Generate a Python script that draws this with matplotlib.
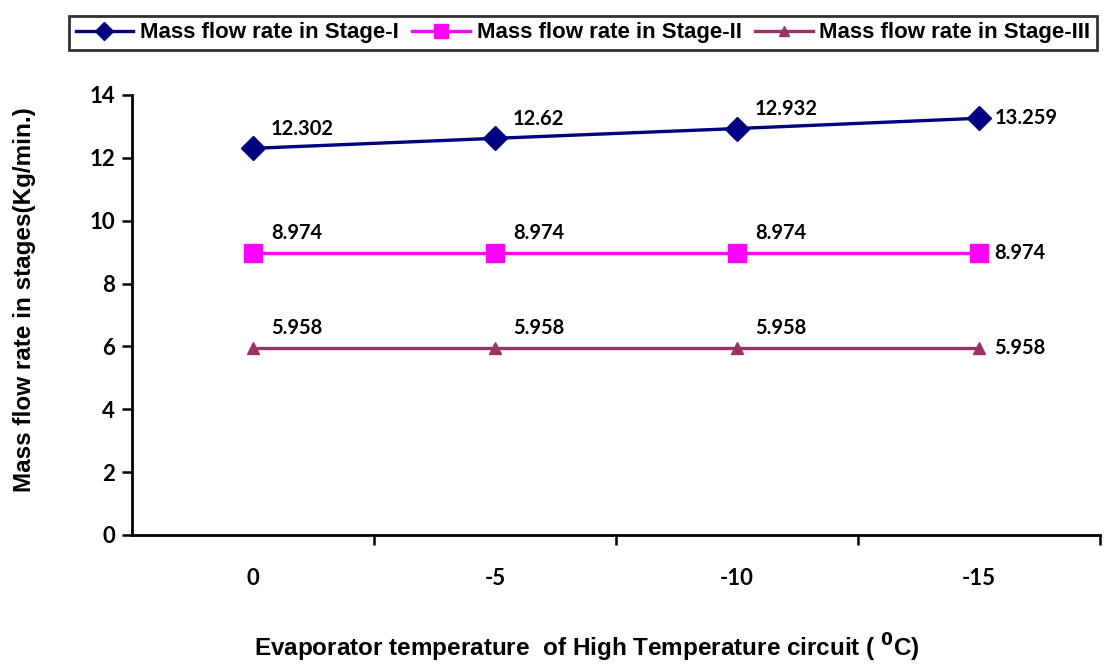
import matplotlib
matplotlib.use("Agg")
import matplotlib.pyplot as plt

# Evaporator temperatures (categories) and mass flow rates per stage
temps = ["0", "-5", "-10", "-15"]
stage1 = [12.302, 12.62, 12.932, 13.259]
stage2 = [8.974, 8.974, 8.974, 8.974]
stage3 = [5.958, 5.958, 5.958, 5.958]

label_font = "Lato"
title_font = "Liberation Sans"

fig = plt.figure(figsize=(11.11, 6.66), dpi=100)
ax = fig.add_axes([0.1188, 0.1967, 0.8712, 0.6607])

x = list(range(len(temps)))
series = [
    (stage1, "#000080", "D", 12, "Mass flow rate in Stage-I"),
    (stage2, "#FF00FF", "s", 13, "Mass flow rate in Stage-II"),
    (stage3, "#993366", "^", 9, "Mass flow rate in Stage-III"),
]
for vals, col, mk, ms, name in series:
    ax.plot(x, vals, color=col, marker=mk, markersize=ms, linewidth=2.4, label=name)
    for i, v in enumerate(vals):
        txt = f"{v:g}"
        if i < len(vals) - 1:
            ax.annotate(txt, (i, v), xytext=(13, 7), textcoords="offset points",
                        fontsize=14.5, fontweight="bold", family=label_font,
                        ha="left", va="bottom")
        else:
            ax.annotate(txt, (i, v), xytext=(11, 0), textcoords="offset points",
                        fontsize=14.5, fontweight="bold", family=label_font,
                        ha="left", va="center")

ax.set_xlim(-0.5, 3.5)
ax.set_ylim(0, 14)
ax.set_yticks(range(0, 15, 2))
ax.set_xticks(x)
ax.set_xticklabels(temps)
ax.set_xticks([0.5, 1.5, 2.5, 3.5], minor=True)
ax.tick_params(axis="x", which="major", length=0, pad=24)
ax.tick_params(axis="x", which="minor", length=7, width=1.8, direction="out")
ax.tick_params(axis="y", length=7, width=1.8, direction="out", pad=5)
for lab in ax.get_xticklabels() + ax.get_yticklabels():
    lab.set_fontsize(16)
    lab.set_fontweight("bold")
    lab.set_family(label_font)

for side in ["top", "right"]:
    ax.spines[side].set_visible(False)
for side in ["left", "bottom"]:
    ax.spines[side].set_linewidth(2)

fig.text(0.022, 0.55, "Mass flow rate in stages(Kg/min.)", rotation=90,
         fontsize=17.5, fontweight="bold", family=title_font, ha="center", va="center")
fig.text(0.528, 0.027, "Evaporator temperature  of High Temperature circuit ( $\\mathbf{^0}$C)",
         fontsize=17.5, fontweight="bold", family=title_font, ha="center", va="center")

leg = fig.legend(loc="upper left", bbox_to_anchor=(0.052, 0.993), ncol=3,
                 frameon=True, fancybox=False, edgecolor="black",
                 prop={"family": title_font, "weight": "bold", "size": 16},
                 handlelength=2.6, columnspacing=0.6, handletextpad=0.3,
                 borderpad=0.3, markerscale=0.75)
leg.get_frame().set_linewidth(2)

fig.savefig("out.png", dpi=100)
